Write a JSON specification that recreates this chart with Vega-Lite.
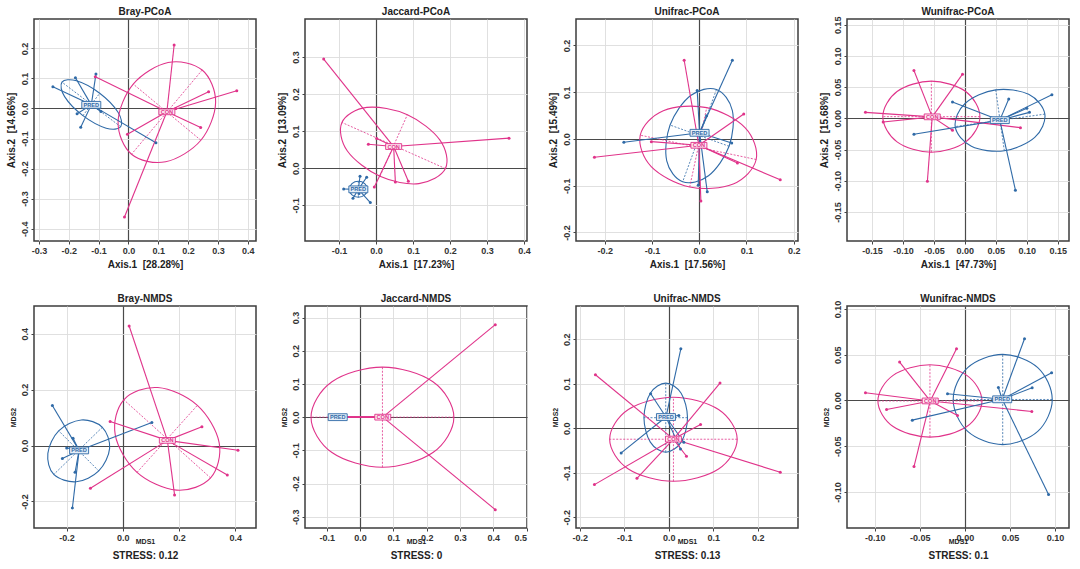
{
"$schema": "https://vega.github.io/schema/vega-lite/v6.json",
"padding": {"left": 5, "top": 6, "right": 5, "bottom": 5},
"columns": 4,
"spacing": {"row": 65, "column": 49},
"bounds": "flush",
"resolve": {"scale": {"x": "independent", "y": "independent"}},
"config": {
  "font": "Liberation Sans",
  "view": {"stroke": "#3c3c3c", "strokeWidth": 1.5},
  "range": {"category": ["#e0338a", "#2f6aa7"]},
  "title": {"fontSize": 10, "fontWeight": "bold", "color": "#222", "offset": 2},
  "axis": {"domain": false, "tickSize": 3, "tickColor": "#444", "labelFontSize": 9, "labelFontWeight": "bold", "labelColor": "#333", "labelPadding": 2, "titleFontSize": 10, "titleFontWeight": "bold", "titleColor": "#222",
    "gridColor": {"condition": {"test": "datum.value===0", "value": "#4a4a4a"}, "value": "#dcdcdc"},
    "gridWidth": {"condition": {"test": "datum.value===0", "value": 1.2}, "value": 0.9},
    "labelExpr": "replace(datum.label,'\u2212','-')"},
  "axisX": {"titlePadding": 4},
  "axisY": {"labelAngle": -90, "labelAlign": "center", "labelBaseline": "bottom", "titlePadding": 4}
},
"datasets": {
"pts": [
{"p":"BP","g":"PRED","x":-0.2533,"y":0.0722,"cx":-0.1246,"cy":0.012},
{"p":"BP","g":"PRED","x":-0.1778,"y":0.1022,"cx":-0.1246,"cy":0.012},
{"p":"BP","g":"PRED","x":-0.1089,"y":0.1144,"cx":-0.1246,"cy":0.012},
{"p":"BP","g":"PRED","x":-0.1722,"y":-0.0178,"cx":-0.1246,"cy":0.012},
{"p":"BP","g":"PRED","x":-0.16,"y":-0.0622,"cx":-0.1246,"cy":0.012},
{"p":"BP","g":"PRED","x":-0.0922,"y":-0.01,"cx":-0.1246,"cy":0.012},
{"p":"BP","g":"PRED","x":0.0922,"y":-0.1144,"cx":-0.1246,"cy":0.012},
{"p":"BP","g":"CON","x":0.1533,"y":0.2111,"cx":0.1289,"cy":-0.0111},
{"p":"BP","g":"CON","x":-0.1111,"y":0.1056,"cx":0.1289,"cy":-0.0111},
{"p":"BP","g":"CON","x":0.2689,"y":0.0556,"cx":0.1289,"cy":-0.0111},
{"p":"BP","g":"CON","x":0.3633,"y":0.0589,"cx":0.1289,"cy":-0.0111},
{"p":"BP","g":"CON","x":0.1589,"y":0.0,"cx":0.1289,"cy":-0.0111},
{"p":"BP","g":"CON","x":0.2422,"y":-0.0633,"cx":0.1289,"cy":-0.0111},
{"p":"BP","g":"CON","x":-0.0033,"y":-0.0856,"cx":0.1289,"cy":-0.0111},
{"p":"BP","g":"CON","x":-0.0133,"y":-0.3611,"cx":0.1289,"cy":-0.0111},
{"p":"JP","g":"CON","x":-0.1414,"y":0.2946,"cx":0.0477,"cy":0.0585},
{"p":"JP","g":"CON","x":0.0018,"y":0.0802,"cx":0.0477,"cy":0.0585},
{"p":"JP","g":"CON","x":-0.0207,"y":0.0649,"cx":0.0477,"cy":0.0585},
{"p":"JP","g":"CON","x":0.3595,"y":0.0811,"cx":0.0477,"cy":0.0585},
{"p":"JP","g":"CON","x":0.0523,"y":-0.0369,"cx":0.0477,"cy":0.0585},
{"p":"JP","g":"CON","x":0.0874,"y":-0.0351,"cx":0.0477,"cy":0.0585},
{"p":"JP","g":"CON","x":-0.0045,"y":-0.0505,"cx":0.0477,"cy":0.0585},
{"p":"JP","g":"PRED","x":-0.0874,"y":-0.0559,"cx":-0.0477,"cy":-0.057},
{"p":"JP","g":"PRED","x":-0.0432,"y":-0.0216,"cx":-0.0477,"cy":-0.057},
{"p":"JP","g":"PRED","x":-0.0252,"y":-0.0243,"cx":-0.0477,"cy":-0.057},
{"p":"JP","g":"PRED","x":-0.0622,"y":-0.0811,"cx":-0.0477,"cy":-0.057},
{"p":"JP","g":"PRED","x":-0.0153,"y":-0.0928,"cx":-0.0477,"cy":-0.057},
{"p":"JP","g":"PRED","x":-0.055,"y":-0.055,"cx":-0.0477,"cy":-0.057},
{"p":"JP","g":"PRED","x":-0.046,"y":-0.068,"cx":-0.0477,"cy":-0.057},
{"p":"UP","g":"PRED","x":0.0702,"y":0.1684,"cx":0.0007,"cy":0.0132},
{"p":"UP","g":"PRED","x":-0.0043,"y":0.1038,"cx":0.0007,"cy":0.0132},
{"p":"UP","g":"PRED","x":-0.1596,"y":-0.0071,"cx":0.0007,"cy":0.0132},
{"p":"UP","g":"PRED","x":0.0688,"y":-0.0085,"cx":0.0007,"cy":0.0132},
{"p":"UP","g":"PRED","x":0.017,"y":-0.113,"cx":0.0007,"cy":0.0132},
{"p":"UP","g":"PRED","x":-0.0021,"y":-0.0988,"cx":0.0007,"cy":0.0132},
{"p":"UP","g":"PRED","x":0.0156,"y":0.0497,"cx":0.0007,"cy":0.0132},
{"p":"UP","g":"CON","x":-0.0319,"y":0.1684,"cx":-0.0007,"cy":-0.0135},
{"p":"UP","g":"CON","x":0.0943,"y":0.0533,"cx":-0.0007,"cy":-0.0135},
{"p":"UP","g":"CON","x":-0.1014,"y":-0.0057,"cx":-0.0007,"cy":-0.0135},
{"p":"UP","g":"CON","x":-0.222,"y":-0.0391,"cx":-0.0007,"cy":-0.0135},
{"p":"UP","g":"CON","x":0.0809,"y":-0.0512,"cx":-0.0007,"cy":-0.0135},
{"p":"UP","g":"CON","x":0.1716,"y":-0.0874,"cx":-0.0007,"cy":-0.0135},
{"p":"UP","g":"CON","x":0.0035,"y":-0.1329,"cx":-0.0007,"cy":-0.0135},
{"p":"WP","g":"CON","x":-0.0822,"y":0.0766,"cx":-0.0527,"cy":0.0024},
{"p":"WP","g":"CON","x":-0.0038,"y":0.0707,"cx":-0.0527,"cy":0.0024},
{"p":"WP","g":"CON","x":-0.1605,"y":0.0096,"cx":-0.0527,"cy":0.0024},
{"p":"WP","g":"CON","x":-0.1319,"y":-0.0059,"cx":-0.0527,"cy":0.0024},
{"p":"WP","g":"CON","x":-0.02,"y":-0.0191,"cx":-0.0527,"cy":0.0024},
{"p":"WP","g":"CON","x":0.0897,"y":-0.0149,"cx":-0.0527,"cy":0.0024},
{"p":"WP","g":"CON","x":-0.0605,"y":-0.1005,"cx":-0.0527,"cy":0.0024},
{"p":"WP","g":"PRED","x":-0.02,"y":0.0261,"cx":0.0564,"cy":-0.0029},
{"p":"WP","g":"PRED","x":0.0708,"y":0.0309,"cx":0.0564,"cy":-0.0029},
{"p":"WP","g":"PRED","x":0.1405,"y":0.0378,"cx":0.0564,"cy":-0.0029},
{"p":"WP","g":"PRED","x":0.1,"y":0.016,"cx":0.0564,"cy":-0.0029},
{"p":"WP","g":"PRED","x":0.1043,"y":0.0096,"cx":0.0564,"cy":-0.0029},
{"p":"WP","g":"PRED","x":-0.0822,"y":-0.0255,"cx":0.0564,"cy":-0.0029},
{"p":"WP","g":"PRED","x":0.0816,"y":-0.1149,"cx":0.0564,"cy":-0.0029},
{"p":"BN","g":"PRED","x":-0.2507,"y":0.1432,"cx":-0.1555,"cy":-0.0174},
{"p":"BN","g":"PRED","x":-0.177,"y":0.0263,"cx":-0.1555,"cy":-0.0174},
{"p":"BN","g":"PRED","x":-0.1996,"y":-0.0084,"cx":-0.1555,"cy":-0.0174},
{"p":"BN","g":"PRED","x":-0.215,"y":-0.0465,"cx":-0.1555,"cy":-0.0174},
{"p":"BN","g":"PRED","x":-0.1699,"y":-0.0955,"cx":-0.1555,"cy":-0.0174},
{"p":"BN","g":"PRED","x":-0.1794,"y":-0.2232,"cx":-0.1555,"cy":-0.0174},
{"p":"BN","g":"PRED","x":0.1034,"y":0.0823,"cx":-0.1555,"cy":-0.0174},
{"p":"BN","g":"CON","x":0.0226,"y":0.4272,"cx":0.1586,"cy":0.0184},
{"p":"BN","g":"CON","x":-0.0451,"y":0.0859,"cx":0.1586,"cy":0.0184},
{"p":"BN","g":"CON","x":0.2816,"y":0.0668,"cx":0.1586,"cy":0.0184},
{"p":"BN","g":"CON","x":0.4099,"y":-0.0167,"cx":0.1586,"cy":0.0184},
{"p":"BN","g":"CON","x":0.3719,"y":-0.105,"cx":0.1586,"cy":0.0184},
{"p":"BN","g":"CON","x":0.1842,"y":-0.1766,"cx":0.1586,"cy":0.0184},
{"p":"BN","g":"CON","x":-0.1152,"y":-0.1527,"cx":0.1586,"cy":0.0184},
{"p":"JN","g":"CON","x":0.4062,"y":0.2787,"cx":0.0682,"cy":0},
{"p":"JN","g":"CON","x":0.4062,"y":-0.2787,"cx":0.0682,"cy":0},
{"p":"JN","g":"CON","x":-0.0672,"y":0,"cx":0.0682,"cy":0},
{"p":"JN","g":"CON","x":-0.0672,"y":0,"cx":0.0682,"cy":0},
{"p":"JN","g":"CON","x":-0.0672,"y":0,"cx":0.0682,"cy":0},
{"p":"JN","g":"CON","x":-0.0672,"y":0,"cx":0.0682,"cy":0},
{"p":"JN","g":"CON","x":-0.0672,"y":0,"cx":0.0682,"cy":0},
{"p":"JN","g":"PRED","x":-0.0672,"y":0,"cx":-0.0672,"cy":0},
{"p":"JN","g":"PRED","x":-0.0672,"y":0,"cx":-0.0672,"cy":0},
{"p":"JN","g":"PRED","x":-0.0672,"y":0,"cx":-0.0672,"cy":0},
{"p":"JN","g":"PRED","x":-0.0672,"y":0,"cx":-0.0672,"cy":0},
{"p":"JN","g":"PRED","x":-0.0672,"y":0,"cx":-0.0672,"cy":0},
{"p":"JN","g":"PRED","x":-0.0672,"y":0,"cx":-0.0672,"cy":0},
{"p":"JN","g":"PRED","x":-0.0672,"y":0,"cx":-0.0672,"cy":0},
{"p":"UN","g":"PRED","x":0.0271,"y":0.1785,"cx":-0.0063,"cy":0.0251},
{"p":"UN","g":"PRED","x":-0.0406,"y":0.0773,"cx":-0.0063,"cy":0.0251},
{"p":"UN","g":"PRED","x":0.0226,"y":0.0285,"cx":-0.0063,"cy":0.0251},
{"p":"UN","g":"PRED","x":-0.1068,"y":-0.0555,"cx":-0.0063,"cy":0.0251},
{"p":"UN","g":"PRED","x":0.0338,"y":-0.0315,"cx":-0.0063,"cy":0.0251},
{"p":"UN","g":"PRED","x":0.0263,"y":-0.0465,"cx":-0.0063,"cy":0.0251},
{"p":"UN","g":"CON","x":-0.1647,"y":0.12,"cx":0.0105,"cy":-0.0245},
{"p":"UN","g":"CON","x":0.115,"y":0.1013,"cx":0.0105,"cy":-0.0245},
{"p":"UN","g":"CON","x":0.0714,"y":0.0083,"cx":0.0105,"cy":-0.0245},
{"p":"UN","g":"CON","x":0.0398,"y":-0.063,"cx":0.0105,"cy":-0.0245},
{"p":"UN","g":"CON","x":-0.0714,"y":-0.1125,"cx":0.0105,"cy":-0.0245},
{"p":"UN","g":"CON","x":-0.1669,"y":-0.1268,"cx":0.0105,"cy":-0.0245},
{"p":"UN","g":"CON","x":0.2504,"y":-0.099,"cx":0.0105,"cy":-0.0245},
{"p":"WN","g":"CON","x":-0.0725,"y":0.042,"cx":-0.0385,"cy":-0.0005},
{"p":"WN","g":"CON","x":-0.0093,"y":0.0566,"cx":-0.0385,"cy":-0.0005},
{"p":"WN","g":"CON","x":-0.1104,"y":0.0084,"cx":-0.0385,"cy":-0.0005},
{"p":"WN","g":"CON","x":-0.087,"y":-0.0099,"cx":-0.0385,"cy":-0.0005},
{"p":"WN","g":"CON","x":-0.0082,"y":-0.0164,"cx":-0.0385,"cy":-0.0005},
{"p":"WN","g":"CON","x":0.0743,"y":-0.012,"cx":-0.0385,"cy":-0.0005},
{"p":"WN","g":"CON","x":-0.0565,"y":-0.0723,"cx":-0.0385,"cy":-0.0005},
{"p":"WN","g":"PRED","x":0.0662,"y":0.0675,"cx":0.0414,"cy":0.0013},
{"p":"WN","g":"PRED","x":0.0963,"y":0.0303,"cx":0.0414,"cy":0.0013},
{"p":"WN","g":"PRED","x":0.0747,"y":0.0139,"cx":0.0414,"cy":0.0013},
{"p":"WN","g":"PRED","x":0.0372,"y":0.0142,"cx":0.0414,"cy":0.0013},
{"p":"WN","g":"PRED","x":-0.0193,"y":0.0073,"cx":0.0414,"cy":0.0013},
{"p":"WN","g":"PRED","x":-0.0584,"y":-0.0215,"cx":0.0414,"cy":0.0013},
{"p":"WN","g":"PRED","x":0.0929,"y":-0.1029,"cx":0.0414,"cy":0.0013}
],
"cen": [
{"p":"BP","g":"PRED","x":-0.1246,"y":0.012},{"p":"BP","g":"CON","x":0.1289,"y":-0.0111},
{"p":"JP","g":"CON","x":0.0477,"y":0.0585},{"p":"JP","g":"PRED","x":-0.0477,"y":-0.057},
{"p":"UP","g":"CON","x":-0.0007,"y":-0.0135},{"p":"UP","g":"PRED","x":0.0007,"y":0.0132},
{"p":"WP","g":"CON","x":-0.0527,"y":0.0024},{"p":"WP","g":"PRED","x":0.0564,"y":-0.0029},
{"p":"BN","g":"PRED","x":-0.1555,"y":-0.0174},{"p":"BN","g":"CON","x":0.1586,"y":0.0184},
{"p":"JN","g":"PRED","x":-0.0672,"y":0},{"p":"JN","g":"CON","x":0.0682,"y":0},
{"p":"UN","g":"CON","x":0.0105,"y":-0.0245},{"p":"UN","g":"PRED","x":-0.0063,"y":0.0251},
{"p":"WN","g":"CON","x":-0.0385,"y":-0.0005},{"p":"WN","g":"PRED","x":0.0414,"y":0.0013}
],
"ell": [
{"p":"BP","g":"PRED","k":0,"x":-0.0259,"y":-0.0609},{"p":"BP","g":"PRED","k":1,"x":-0.0747,"y":-0.0656},{"p":"BP","g":"PRED","k":2,"x":-0.1526,"y":-0.024},{"p":"BP","g":"PRED","k":3,"x":-0.214,"y":0.0393},{"p":"BP","g":"PRED","k":4,"x":-0.223,"y":0.0876},{"p":"BP","g":"PRED","k":5,"x":-0.1742,"y":0.0922},{"p":"BP","g":"PRED","k":6,"x":-0.0963,"y":0.0507},{"p":"BP","g":"PRED","k":7,"x":-0.0349,"y":-0.0127},
{"p":"BP","g":"CON","k":0,"x":0.2473,"y":0.1279},{"p":"BP","g":"CON","k":1,"x":0.2924,"y":0.0208},{"p":"BP","g":"CON","k":2,"x":0.2429,"y":-0.1058},{"p":"BP","g":"CON","k":3,"x":0.1249,"y":-0.1774},{"p":"BP","g":"CON","k":4,"x":0.0104,"y":-0.1523},{"p":"BP","g":"CON","k":5,"x":-0.0347,"y":-0.0452},{"p":"BP","g":"CON","k":6,"x":0.016,"y":0.0813},{"p":"BP","g":"CON","k":7,"x":0.1329,"y":0.153},
{"p":"JP","g":"CON","k":0,"x":0.1877,"y":-0.001},{"p":"JP","g":"CON","k":1,"x":0.116,"y":-0.0416},{"p":"JP","g":"CON","k":2,"x":0.0107,"y":-0.0219},{"p":"JP","g":"CON","k":3,"x":-0.0774,"y":0.0465},{"p":"JP","g":"CON","k":4,"x":-0.0921,"y":0.1235},{"p":"JP","g":"CON","k":5,"x":-0.025,"y":0.1641},{"p":"JP","g":"CON","k":6,"x":0.0848,"y":0.1444},{"p":"JP","g":"CON","k":7,"x":0.1729,"y":0.076},
{"p":"JP","g":"PRED","k":0,"x":-0.0234,"y":-0.0568},{"p":"JP","g":"PRED","k":1,"x":-0.0305,"y":-0.0721},{"p":"JP","g":"PRED","k":2,"x":-0.0477,"y":-0.0784},{"p":"JP","g":"PRED","k":3,"x":-0.065,"y":-0.0721},{"p":"JP","g":"PRED","k":4,"x":-0.0721,"y":-0.0568},{"p":"JP","g":"PRED","k":5,"x":-0.065,"y":-0.0414},{"p":"JP","g":"PRED","k":6,"x":-0.0477,"y":-0.0351},{"p":"JP","g":"PRED","k":7,"x":-0.0305,"y":-0.0414},
{"p":"UP","g":"PRED","k":0,"x":0.0365,"y":0.1058},{"p":"UP","g":"PRED","k":1,"x":0.0702,"y":0.0608},{"p":"UP","g":"PRED","k":2,"x":0.0632,"y":-0.0156},{"p":"UP","g":"PRED","k":3,"x":0.0196,"y":-0.0787},{"p":"UP","g":"PRED","k":4,"x":-0.0351,"y":-0.0916},{"p":"UP","g":"PRED","k":5,"x":-0.0688,"y":-0.0466},{"p":"UP","g":"PRED","k":6,"x":-0.0618,"y":0.0298},{"p":"UP","g":"PRED","k":7,"x":-0.0182,"y":0.093},
{"p":"UP","g":"CON","k":0,"x":0.1206,"y":-0.0439},{"p":"UP","g":"CON","k":1,"x":0.072,"y":-0.0962},{"p":"UP","g":"CON","k":2,"x":-0.0202,"y":-0.1026},{"p":"UP","g":"CON","k":3,"x":-0.1017,"y":-0.0592},{"p":"UP","g":"CON","k":4,"x":-0.1249,"y":0.0081},{"p":"UP","g":"CON","k":5,"x":-0.0761,"y":0.0606},{"p":"UP","g":"CON","k":6,"x":0.0159,"y":0.067},{"p":"UP","g":"CON","k":7,"x":0.0974,"y":0.0237},
{"p":"WP","g":"CON","k":0,"x":0.0243,"y":0.0027},{"p":"WP","g":"CON","k":1,"x":0.0014,"y":-0.0376},{"p":"WP","g":"CON","k":2,"x":-0.0541,"y":-0.0543},{"p":"WP","g":"CON","k":3,"x":-0.1095,"y":-0.0376},{"p":"WP","g":"CON","k":4,"x":-0.1325,"y":0.0027},{"p":"WP","g":"CON","k":5,"x":-0.1095,"y":0.0429},{"p":"WP","g":"CON","k":6,"x":-0.0541,"y":0.0596},{"p":"WP","g":"CON","k":7,"x":0.0014,"y":0.0429},
{"p":"WP","g":"PRED","k":0,"x":0.1291,"y":0.0068},{"p":"WP","g":"PRED","k":1,"x":0.1128,"y":-0.0306},{"p":"WP","g":"PRED","k":2,"x":0.0637,"y":-0.0519},{"p":"WP","g":"PRED","k":3,"x":0.0105,"y":-0.0447},{"p":"WP","g":"PRED","k":4,"x":-0.0156,"y":-0.0132},{"p":"WP","g":"PRED","k":5,"x":0.0007,"y":0.0242},{"p":"WP","g":"PRED","k":6,"x":0.0498,"y":0.0456},{"p":"WP","g":"PRED","k":7,"x":0.103,"y":0.0384},
{"p":"BN","g":"CON","k":0,"x":0.3125,"y":-0.1159},{"p":"BN","g":"CON","k":1,"x":0.1914,"y":-0.1595},{"p":"BN","g":"CON","k":2,"x":0.0507,"y":-0.0958},{"p":"BN","g":"CON","k":3,"x":-0.0269,"y":0.0381},{"p":"BN","g":"CON","k":4,"x":0.0036,"y":0.1636},{"p":"BN","g":"CON","k":5,"x":0.1246,"y":0.2073},{"p":"BN","g":"CON","k":6,"x":0.2653,"y":0.1436},{"p":"BN","g":"CON","k":7,"x":0.343,"y":0.0097},
{"p":"BN","g":"PRED","k":0,"x":-0.0728,"y":0.0653},{"p":"BN","g":"PRED","k":1,"x":-0.0469,"y":-0.0102},{"p":"BN","g":"PRED","k":2,"x":-0.0855,"y":-0.0908},{"p":"BN","g":"PRED","k":3,"x":-0.1657,"y":-0.1295},{"p":"BN","g":"PRED","k":4,"x":-0.2456,"y":-0.1034},{"p":"BN","g":"PRED","k":5,"x":-0.2667,"y":-0.028},{"p":"BN","g":"PRED","k":6,"x":-0.2282,"y":0.0526},{"p":"BN","g":"PRED","k":7,"x":-0.148,"y":0.0913},
{"p":"JN","g":"CON","k":0,"x":0.2818,"y":0},{"p":"JN","g":"CON","k":1,"x":0.2189,"y":-0.1067},{"p":"JN","g":"CON","k":2,"x":0.0672,"y":-0.1509},{"p":"JN","g":"CON","k":3,"x":-0.0845,"y":-0.1067},{"p":"JN","g":"CON","k":4,"x":-0.1474,"y":0},{"p":"JN","g":"CON","k":5,"x":-0.0845,"y":0.1067},{"p":"JN","g":"CON","k":6,"x":0.0672,"y":0.1509},{"p":"JN","g":"CON","k":7,"x":0.2189,"y":0.1067},
{"p":"UN","g":"CON","k":0,"x":0.1537,"y":-0.0248},{"p":"UN","g":"CON","k":1,"x":0.1118,"y":-0.0916},{"p":"UN","g":"CON","k":2,"x":0.0105,"y":-0.1193},{"p":"UN","g":"CON","k":3,"x":-0.0908,"y":-0.0916},{"p":"UN","g":"CON","k":4,"x":-0.1327,"y":-0.0248},{"p":"UN","g":"CON","k":5,"x":-0.0908,"y":0.042},{"p":"UN","g":"CON","k":6,"x":0.0105,"y":0.0697},{"p":"UN","g":"CON","k":7,"x":0.1118,"y":0.042},
{"p":"UN","g":"PRED","k":0,"x":0.0421,"y":0.0236},{"p":"UN","g":"PRED","k":1,"x":0.0278,"y":-0.0313},{"p":"UN","g":"PRED","k":2,"x":-0.0068,"y":-0.054},{"p":"UN","g":"PRED","k":3,"x":-0.0414,"y":-0.0313},{"p":"UN","g":"PRED","k":4,"x":-0.0557,"y":0.0236},{"p":"UN","g":"PRED","k":5,"x":-0.0414,"y":0.0785},{"p":"UN","g":"PRED","k":6,"x":-0.0068,"y":0.1012},{"p":"UN","g":"PRED","k":7,"x":0.0278,"y":0.0785},
{"p":"WN","g":"CON","k":0,"x":0.019,"y":-0.0005},{"p":"WN","g":"CON","k":1,"x":0.0021,"y":-0.0285},{"p":"WN","g":"CON","k":2,"x":-0.0388,"y":-0.0401},{"p":"WN","g":"CON","k":3,"x":-0.0797,"y":-0.0285},{"p":"WN","g":"CON","k":4,"x":-0.0966,"y":-0.0005},{"p":"WN","g":"CON","k":5,"x":-0.0797,"y":0.0275},{"p":"WN","g":"CON","k":6,"x":-0.0388,"y":0.0391},{"p":"WN","g":"CON","k":7,"x":0.0021,"y":0.0275},
{"p":"WN","g":"PRED","k":0,"x":0.097,"y":0.0011},{"p":"WN","g":"PRED","k":1,"x":0.0809,"y":-0.0338},{"p":"WN","g":"PRED","k":2,"x":0.042,"y":-0.0482},{"p":"WN","g":"PRED","k":3,"x":0.0031,"y":-0.0338},{"p":"WN","g":"PRED","k":4,"x":-0.013,"y":0.0011},{"p":"WN","g":"PRED","k":5,"x":0.0031,"y":0.036},{"p":"WN","g":"PRED","k":6,"x":0.042,"y":0.0504},{"p":"WN","g":"PRED","k":7,"x":0.0809,"y":0.036}
],
"axs": [
{"p":"BP","g":"PRED","x":-0.0259,"y":-0.0609,"x2":-0.223,"y2":0.0876},{"p":"BP","g":"PRED","x":-0.1526,"y":-0.024,"x2":-0.0963,"y2":0.0507},
{"p":"BP","g":"CON","x":0.2473,"y":0.1279,"x2":0.0104,"y2":-0.1523},{"p":"BP","g":"CON","x":0.2429,"y":-0.1058,"x2":0.016,"y2":0.0813},
{"p":"JP","g":"CON","x":0.1877,"y":-0.001,"x2":-0.0921,"y2":0.1235},{"p":"JP","g":"CON","x":0.0107,"y":-0.0219,"x2":0.0848,"y2":0.1444},
{"p":"JP","g":"PRED","x":-0.0234,"y":-0.0568,"x2":-0.0721,"y2":-0.0568},{"p":"JP","g":"PRED","x":-0.0477,"y":-0.0784,"x2":-0.0477,"y2":-0.0351},
{"p":"UP","g":"PRED","x":0.0365,"y":0.1058,"x2":-0.0351,"y2":-0.0916},{"p":"UP","g":"PRED","x":0.0632,"y":-0.0156,"x2":-0.0618,"y2":0.0298},
{"p":"UP","g":"CON","x":0.1206,"y":-0.0439,"x2":-0.1249,"y2":0.0081},{"p":"UP","g":"CON","x":-0.0202,"y":-0.1026,"x2":0.0159,"y2":0.067},
{"p":"WP","g":"CON","x":0.0243,"y":0.0027,"x2":-0.1325,"y2":0.0027},{"p":"WP","g":"CON","x":-0.0541,"y":-0.0543,"x2":-0.0541,"y2":0.0596},
{"p":"WP","g":"PRED","x":0.1291,"y":0.0068,"x2":-0.0156,"y2":-0.0132},{"p":"WP","g":"PRED","x":0.0637,"y":-0.0519,"x2":0.0498,"y2":0.0456},
{"p":"BN","g":"CON","x":0.3125,"y":-0.1159,"x2":0.0036,"y2":0.1636},{"p":"BN","g":"CON","x":0.0507,"y":-0.0958,"x2":0.2653,"y2":0.1436},
{"p":"BN","g":"PRED","x":-0.0728,"y":0.0653,"x2":-0.2456,"y2":-0.1034},{"p":"BN","g":"PRED","x":-0.0855,"y":-0.0908,"x2":-0.2282,"y2":0.0526},
{"p":"JN","g":"CON","x":0.2818,"y":0,"x2":-0.1474,"y2":0},{"p":"JN","g":"CON","x":0.0672,"y":-0.1509,"x2":0.0672,"y2":0.1509},
{"p":"UN","g":"CON","x":0.1537,"y":-0.0248,"x2":-0.1327,"y2":-0.0248},{"p":"UN","g":"CON","x":0.0105,"y":-0.1193,"x2":0.0105,"y2":0.0697},
{"p":"UN","g":"PRED","x":0.0421,"y":0.0236,"x2":-0.0557,"y2":0.0236},{"p":"UN","g":"PRED","x":-0.0068,"y":-0.054,"x2":-0.0068,"y2":0.1012},
{"p":"WN","g":"CON","x":0.019,"y":-0.0005,"x2":-0.0966,"y2":-0.0005},{"p":"WN","g":"CON","x":-0.0388,"y":-0.0401,"x2":-0.0388,"y2":0.0391},
{"p":"WN","g":"PRED","x":0.097,"y":0.0011,"x2":-0.013,"y2":0.0011},{"p":"WN","g":"PRED","x":0.042,"y":-0.0482,"x2":0.042,"y2":0.0504}
]
},
"concat": [
{"title":"Bray-PCoA","width":222,"height":222,
 "encoding":{"x":{"field":"x","type":"quantitative","scale":{"domain":[-0.3167,0.4278],"nice":false,"zero":false},"axis":{"values":[-0.3,-0.2,-0.1,0,0.1,0.2,0.3,0.4],"format":".1f","title":"Axis.1\u00a0 [28.28%]"}},
  "y":{"field":"y","type":"quantitative","scale":{"domain":[-0.4411,0.2978],"nice":false,"zero":false},"axis":{"values":[-0.4,-0.3,-0.2,-0.1,0,0.1,0.2],"format":".1f","title":"Axis.2\u00a0 [14.66%]"}}},
 "layer":[
  {"data":{"name":"ell"},"transform":[{"filter":"datum.p==='BP'"}],"mark":{"type":"line","interpolate":"cardinal-closed","strokeWidth":1.1},"encoding":{"color":{"field":"g","type":"nominal","legend":null},"order":{"field":"k","type":"quantitative"}}},
  {"data":{"name":"axs"},"transform":[{"filter":"datum.p==='BP'"}],"mark":{"type":"rule","strokeDash":[2,1.5],"strokeWidth":0.8},"encoding":{"x2":{"field":"x2"},"y2":{"field":"y2"},"color":{"field":"g","type":"nominal","legend":null}}},
  {"data":{"name":"pts"},"transform":[{"filter":"datum.p==='BP'"}],"mark":{"type":"rule","strokeWidth":1.1},"encoding":{"x2":{"field":"cx"},"y2":{"field":"cy"},"color":{"field":"g","type":"nominal","legend":null}}},
  {"data":{"name":"pts"},"transform":[{"filter":"datum.p==='BP'"}],"mark":{"type":"circle","size":9,"opacity":1},"encoding":{"color":{"field":"g","type":"nominal","legend":null}}},
  {"data":{"name":"cen"},"transform":[{"filter":"datum.p==='BP'"}],"mark":{"type":"point","shape":"M-1,-0.36H1V0.36H-1Z","filled":true,"strokeWidth":0.9,"opacity":1},"encoding":{"fill":{"field":"g","type":"nominal","scale":{"domain":["CON","PRED"],"range":["#fde6f1","#e4edf7"]},"legend":null},"stroke":{"field":"g","type":"nominal","scale":{"domain":["CON","PRED"],"range":["#e0338a","#2f6aa7"]},"legend":null},"size":{"field":"g","type":"ordinal","scale":{"domain":["CON","PRED"],"range":[256,361]},"legend":null}}},
  {"data":{"name":"cen"},"transform":[{"filter":"datum.p==='BP'"}],"mark":{"type":"text","fontSize":5.6,"fontWeight":"bold"},"encoding":{"text":{"field":"g"},"color":{"field":"g","type":"nominal","legend":null}}}
 ]},
{"title":"Jaccard-PCoA","width":222,"height":222,
 "encoding":{"x":{"field":"x","type":"quantitative","scale":{"domain":[-0.1919,0.4081],"nice":false,"zero":false},"axis":{"values":[-0.1,0,0.1,0.2,0.3,0.4],"format":".1f","title":"Axis.1\u00a0 [17.23%]"}},
  "y":{"field":"y","type":"quantitative","scale":{"domain":[-0.1964,0.4027],"nice":false,"zero":false},"axis":{"values":[-0.1,0,0.1,0.2,0.3],"format":".1f","title":"Axis.2\u00a0 [13.09%]"}}},
 "layer":[
  {"data":{"name":"ell"},"transform":[{"filter":"datum.p==='JP'"}],"mark":{"type":"line","interpolate":"cardinal-closed","strokeWidth":1.1},"encoding":{"color":{"field":"g","type":"nominal","legend":null},"order":{"field":"k","type":"quantitative"}}},
  {"data":{"name":"axs"},"transform":[{"filter":"datum.p==='JP'"}],"mark":{"type":"rule","strokeDash":[2,1.5],"strokeWidth":0.8},"encoding":{"x2":{"field":"x2"},"y2":{"field":"y2"},"color":{"field":"g","type":"nominal","legend":null}}},
  {"data":{"name":"pts"},"transform":[{"filter":"datum.p==='JP'"}],"mark":{"type":"rule","strokeWidth":1.1},"encoding":{"x2":{"field":"cx"},"y2":{"field":"cy"},"color":{"field":"g","type":"nominal","legend":null}}},
  {"data":{"name":"pts"},"transform":[{"filter":"datum.p==='JP'"}],"mark":{"type":"circle","size":9,"opacity":1},"encoding":{"color":{"field":"g","type":"nominal","legend":null}}},
  {"data":{"name":"cen"},"transform":[{"filter":"datum.p==='JP'"}],"mark":{"type":"point","shape":"M-1,-0.36H1V0.36H-1Z","filled":true,"strokeWidth":0.9,"opacity":1},"encoding":{"fill":{"field":"g","type":"nominal","scale":{"domain":["CON","PRED"],"range":["#fde6f1","#e4edf7"]},"legend":null},"stroke":{"field":"g","type":"nominal","scale":{"domain":["CON","PRED"],"range":["#e0338a","#2f6aa7"]},"legend":null},"size":{"field":"g","type":"ordinal","scale":{"domain":["CON","PRED"],"range":[256,361]},"legend":null}}},
  {"data":{"name":"cen"},"transform":[{"filter":"datum.p==='JP'"}],"mark":{"type":"text","fontSize":5.6,"fontWeight":"bold"},"encoding":{"text":{"field":"g"},"color":{"field":"g","type":"nominal","legend":null}}}
 ]},
{"title":"Unifrac-PCoA","width":222,"height":222,
 "encoding":{"x":{"field":"x","type":"quantitative","scale":{"domain":[-0.261,0.2092],"nice":false,"zero":false},"axis":{"values":[-0.2,-0.1,0,0.1,0.2],"format":".1f","title":"Axis.1\u00a0 [17.56%]"}},
  "y":{"field":"y","type":"quantitative","scale":{"domain":[-0.2182,0.2566],"nice":false,"zero":false},"axis":{"values":[-0.2,-0.1,0,0.1,0.2],"format":".1f","title":"Axis.2\u00a0 [15.49%]"}}},
 "layer":[
  {"data":{"name":"ell"},"transform":[{"filter":"datum.p==='UP'"}],"mark":{"type":"line","interpolate":"cardinal-closed","strokeWidth":1.1},"encoding":{"color":{"field":"g","type":"nominal","legend":null},"order":{"field":"k","type":"quantitative"}}},
  {"data":{"name":"axs"},"transform":[{"filter":"datum.p==='UP'"}],"mark":{"type":"rule","strokeDash":[2,1.5],"strokeWidth":0.8},"encoding":{"x2":{"field":"x2"},"y2":{"field":"y2"},"color":{"field":"g","type":"nominal","legend":null}}},
  {"data":{"name":"pts"},"transform":[{"filter":"datum.p==='UP'"}],"mark":{"type":"rule","strokeWidth":1.1},"encoding":{"x2":{"field":"cx"},"y2":{"field":"cy"},"color":{"field":"g","type":"nominal","legend":null}}},
  {"data":{"name":"pts"},"transform":[{"filter":"datum.p==='UP'"}],"mark":{"type":"circle","size":9,"opacity":1},"encoding":{"color":{"field":"g","type":"nominal","legend":null}}},
  {"data":{"name":"cen"},"transform":[{"filter":"datum.p==='UP'"}],"mark":{"type":"point","shape":"M-1,-0.36H1V0.36H-1Z","filled":true,"strokeWidth":0.9,"opacity":1},"encoding":{"fill":{"field":"g","type":"nominal","scale":{"domain":["CON","PRED"],"range":["#fde6f1","#e4edf7"]},"legend":null},"stroke":{"field":"g","type":"nominal","scale":{"domain":["CON","PRED"],"range":["#e0338a","#2f6aa7"]},"legend":null},"size":{"field":"g","type":"ordinal","scale":{"domain":["CON","PRED"],"range":[256,361]},"legend":null}}},
  {"data":{"name":"cen"},"transform":[{"filter":"datum.p==='UP'"}],"mark":{"type":"text","fontSize":5.6,"fontWeight":"bold"},"encoding":{"text":{"field":"g"},"color":{"field":"g","type":"nominal","legend":null}}}
 ]},
{"title":{"text":"Wunifrac-PCoA","offset":-1.2},"width":222,"height":222,
 "encoding":{"x":{"field":"x","type":"quantitative","scale":{"domain":[-0.1903,0.1681],"nice":false,"zero":false},"axis":{"values":[-0.15,-0.1,-0.05,0,0.05,0.1,0.15],"format":".2f","title":"Axis.1\u00a0 [47.73%]"}},
  "y":{"field":"y","type":"quantitative","scale":{"domain":[-0.1963,0.159],"nice":false,"zero":false},"axis":{"values":[-0.15,-0.1,-0.05,0,0.05,0.1,0.15],"format":".2f","title":"Axis.2\u00a0 [15.68%]"}}},
 "layer":[
  {"data":{"name":"ell"},"transform":[{"filter":"datum.p==='WP'"}],"mark":{"type":"line","interpolate":"cardinal-closed","strokeWidth":1.1},"encoding":{"color":{"field":"g","type":"nominal","legend":null},"order":{"field":"k","type":"quantitative"}}},
  {"data":{"name":"axs"},"transform":[{"filter":"datum.p==='WP'"}],"mark":{"type":"rule","strokeDash":[2,1.5],"strokeWidth":0.8},"encoding":{"x2":{"field":"x2"},"y2":{"field":"y2"},"color":{"field":"g","type":"nominal","legend":null}}},
  {"data":{"name":"pts"},"transform":[{"filter":"datum.p==='WP'"}],"mark":{"type":"rule","strokeWidth":1.1},"encoding":{"x2":{"field":"cx"},"y2":{"field":"cy"},"color":{"field":"g","type":"nominal","legend":null}}},
  {"data":{"name":"pts"},"transform":[{"filter":"datum.p==='WP'"}],"mark":{"type":"circle","size":9,"opacity":1},"encoding":{"color":{"field":"g","type":"nominal","legend":null}}},
  {"data":{"name":"cen"},"transform":[{"filter":"datum.p==='WP'"}],"mark":{"type":"point","shape":"M-1,-0.36H1V0.36H-1Z","filled":true,"strokeWidth":0.9,"opacity":1},"encoding":{"fill":{"field":"g","type":"nominal","scale":{"domain":["CON","PRED"],"range":["#fde6f1","#e4edf7"]},"legend":null},"stroke":{"field":"g","type":"nominal","scale":{"domain":["CON","PRED"],"range":["#e0338a","#2f6aa7"]},"legend":null},"size":{"field":"g","type":"ordinal","scale":{"domain":["CON","PRED"],"range":[256,361]},"legend":null}}},
  {"data":{"name":"cen"},"transform":[{"filter":"datum.p==='WP'"}],"mark":{"type":"text","fontSize":5.6,"fontWeight":"bold"},"encoding":{"text":{"field":"g"},"color":{"field":"g","type":"nominal","legend":null}}}
 ]},
{"title":"Bray-NMDS","width":222,"height":222,"resolve":{"axis":{"x":"independent"}},
 "layer":[
 {"encoding":{"x":{"field":"x","type":"quantitative","scale":{"domain":[-0.316,0.474],"nice":false,"zero":false},"axis":{"values":[-0.2,0,0.2,0.4],"format":".1f","title":"MDS1","titleFontSize":7,"titlePadding":-5}},
  "y":{"field":"y","type":"quantitative","scale":{"domain":[-0.2948,0.4988],"nice":false,"zero":false},"axis":{"values":[-0.2,0,0.2,0.4],"format":".1f","title":"MDS2","titleFontSize":7}}},
 "layer":[
  {"data":{"name":"ell"},"transform":[{"filter":"datum.p==='BN'"}],"mark":{"type":"line","interpolate":"cardinal-closed","strokeWidth":1.1},"encoding":{"color":{"field":"g","type":"nominal","legend":null},"order":{"field":"k","type":"quantitative"}}},
  {"data":{"name":"axs"},"transform":[{"filter":"datum.p==='BN'"}],"mark":{"type":"rule","strokeDash":[2,1.5],"strokeWidth":0.8},"encoding":{"x2":{"field":"x2"},"y2":{"field":"y2"},"color":{"field":"g","type":"nominal","legend":null}}},
  {"data":{"name":"pts"},"transform":[{"filter":"datum.p==='BN'"}],"mark":{"type":"rule","strokeWidth":1.1},"encoding":{"x2":{"field":"cx"},"y2":{"field":"cy"},"color":{"field":"g","type":"nominal","legend":null}}},
  {"data":{"name":"pts"},"transform":[{"filter":"datum.p==='BN'"}],"mark":{"type":"circle","size":9,"opacity":1},"encoding":{"color":{"field":"g","type":"nominal","legend":null}}},
  {"data":{"name":"cen"},"transform":[{"filter":"datum.p==='BN'"}],"mark":{"type":"point","shape":"M-1,-0.36H1V0.36H-1Z","filled":true,"strokeWidth":0.9,"opacity":1},"encoding":{"fill":{"field":"g","type":"nominal","scale":{"domain":["CON","PRED"],"range":["#fde6f1","#e4edf7"]},"legend":null},"stroke":{"field":"g","type":"nominal","scale":{"domain":["CON","PRED"],"range":["#e0338a","#2f6aa7"]},"legend":null},"size":{"field":"g","type":"ordinal","scale":{"domain":["CON","PRED"],"range":[256,361]},"legend":null}}},
  {"data":{"name":"cen"},"transform":[{"filter":"datum.p==='BN'"}],"mark":{"type":"text","fontSize":5.6,"fontWeight":"bold"},"encoding":{"text":{"field":"g"},"color":{"field":"g","type":"nominal","legend":null}}}
 ]},
 {"data":{"name":"cen"},"transform":[{"filter":"datum.p==='BN'"}],"mark":{"type":"point","opacity":0},
  "encoding":{"x":{"field":"x","type":"quantitative","scale":{"domain":[-0.316,0.474],"nice":false,"zero":false},"axis":{"orient":"bottom","title":"STRESS: 0.12","labels":false,"ticks":false,"grid":false,"domain":false,"titleFontSize":10,"titlePadding":22}},
   "y":{"field":"y","type":"quantitative","scale":{"domain":[-0.2948,0.4988],"nice":false,"zero":false},"axis":{"values":[-0.2,0,0.2,0.4],"format":".1f","title":"MDS2","titleFontSize":7}}}}
 ]},
{"title":"Jaccard-NMDS","width":222,"height":222,"resolve":{"axis":{"x":"independent"}},
 "layer":[
 {"encoding":{"x":{"field":"x","type":"quantitative","scale":{"domain":[-0.1655,0.5015],"nice":false,"zero":false},"axis":{"values":[-0.1,0,0.1,0.2,0.3,0.4,0.5],"format":".1f","title":"MDS1","titleFontSize":7,"titlePadding":-5}},
  "y":{"field":"y","type":"quantitative","scale":{"domain":[-0.334,0.335],"nice":false,"zero":false},"axis":{"values":[-0.3,-0.2,-0.1,0,0.1,0.2,0.3],"format":".1f","title":"MDS2","titleFontSize":7}}},
 "layer":[
  {"data":{"name":"ell"},"transform":[{"filter":"datum.p==='JN'"}],"mark":{"type":"line","interpolate":"cardinal-closed","strokeWidth":1.1},"encoding":{"color":{"field":"g","type":"nominal","legend":null},"order":{"field":"k","type":"quantitative"}}},
  {"data":{"name":"axs"},"transform":[{"filter":"datum.p==='JN'"}],"mark":{"type":"rule","strokeDash":[2,1.5],"strokeWidth":0.8},"encoding":{"x2":{"field":"x2"},"y2":{"field":"y2"},"color":{"field":"g","type":"nominal","legend":null}}},
  {"data":{"name":"pts"},"transform":[{"filter":"datum.p==='JN'"}],"mark":{"type":"rule","strokeWidth":1.1},"encoding":{"x2":{"field":"cx"},"y2":{"field":"cy"},"color":{"field":"g","type":"nominal","legend":null}}},
  {"data":{"name":"pts"},"transform":[{"filter":"datum.p==='JN'"}],"mark":{"type":"circle","size":9,"opacity":1},"encoding":{"color":{"field":"g","type":"nominal","legend":null}}},
  {"data":{"name":"cen"},"transform":[{"filter":"datum.p==='JN'"}],"mark":{"type":"point","shape":"M-1,-0.36H1V0.36H-1Z","filled":true,"strokeWidth":0.9,"opacity":1},"encoding":{"fill":{"field":"g","type":"nominal","scale":{"domain":["CON","PRED"],"range":["#fde6f1","#e4edf7"]},"legend":null},"stroke":{"field":"g","type":"nominal","scale":{"domain":["CON","PRED"],"range":["#e0338a","#2f6aa7"]},"legend":null},"size":{"field":"g","type":"ordinal","scale":{"domain":["CON","PRED"],"range":[256,361]},"legend":null}}},
  {"data":{"name":"cen"},"transform":[{"filter":"datum.p==='JN'"}],"mark":{"type":"text","fontSize":5.6,"fontWeight":"bold"},"encoding":{"text":{"field":"g"},"color":{"field":"g","type":"nominal","legend":null}}}
 ]},
 {"data":{"name":"cen"},"transform":[{"filter":"datum.p==='JN'"}],"mark":{"type":"point","opacity":0},
  "encoding":{"x":{"field":"x","type":"quantitative","scale":{"domain":[-0.1655,0.5015],"nice":false,"zero":false},"axis":{"orient":"bottom","title":"STRESS: 0","labels":false,"ticks":false,"grid":false,"domain":false,"titleFontSize":10,"titlePadding":22}},
   "y":{"field":"y","type":"quantitative","scale":{"domain":[-0.334,0.335],"nice":false,"zero":false},"axis":{"values":[-0.3,-0.2,-0.1,0,0.1,0.2,0.3],"format":".1f","title":"MDS2","titleFontSize":7}}}}
 ]},
{"title":"Unifrac-NMDS","width":222,"height":222,"resolve":{"axis":{"x":"independent"}},
 "layer":[
 {"encoding":{"x":{"field":"x","type":"quantitative","scale":{"domain":[-0.2083,0.2902],"nice":false,"zero":false},"axis":{"values":[-0.2,-0.1,0,0.1,0.2],"format":".1f","title":"MDS1","titleFontSize":7,"titlePadding":-5}},
  "y":{"field":"y","type":"quantitative","scale":{"domain":[-0.2243,0.2746],"nice":false,"zero":false},"axis":{"values":[-0.2,-0.1,0,0.1,0.2],"format":".1f","title":"MDS2","titleFontSize":7}}},
 "layer":[
  {"data":{"name":"ell"},"transform":[{"filter":"datum.p==='UN'"}],"mark":{"type":"line","interpolate":"cardinal-closed","strokeWidth":1.1},"encoding":{"color":{"field":"g","type":"nominal","legend":null},"order":{"field":"k","type":"quantitative"}}},
  {"data":{"name":"axs"},"transform":[{"filter":"datum.p==='UN'"}],"mark":{"type":"rule","strokeDash":[2,1.5],"strokeWidth":0.8},"encoding":{"x2":{"field":"x2"},"y2":{"field":"y2"},"color":{"field":"g","type":"nominal","legend":null}}},
  {"data":{"name":"pts"},"transform":[{"filter":"datum.p==='UN'"}],"mark":{"type":"rule","strokeWidth":1.1},"encoding":{"x2":{"field":"cx"},"y2":{"field":"cy"},"color":{"field":"g","type":"nominal","legend":null}}},
  {"data":{"name":"pts"},"transform":[{"filter":"datum.p==='UN'"}],"mark":{"type":"circle","size":9,"opacity":1},"encoding":{"color":{"field":"g","type":"nominal","legend":null}}},
  {"data":{"name":"cen"},"transform":[{"filter":"datum.p==='UN'"}],"mark":{"type":"point","shape":"M-1,-0.36H1V0.36H-1Z","filled":true,"strokeWidth":0.9,"opacity":1},"encoding":{"fill":{"field":"g","type":"nominal","scale":{"domain":["CON","PRED"],"range":["#fde6f1","#e4edf7"]},"legend":null},"stroke":{"field":"g","type":"nominal","scale":{"domain":["CON","PRED"],"range":["#e0338a","#2f6aa7"]},"legend":null},"size":{"field":"g","type":"ordinal","scale":{"domain":["CON","PRED"],"range":[256,361]},"legend":null}}},
  {"data":{"name":"cen"},"transform":[{"filter":"datum.p==='UN'"}],"mark":{"type":"text","fontSize":5.6,"fontWeight":"bold"},"encoding":{"text":{"field":"g"},"color":{"field":"g","type":"nominal","legend":null}}}
 ]},
 {"data":{"name":"cen"},"transform":[{"filter":"datum.p==='UN'"}],"mark":{"type":"point","opacity":0},
  "encoding":{"x":{"field":"x","type":"quantitative","scale":{"domain":[-0.2083,0.2902],"nice":false,"zero":false},"axis":{"orient":"bottom","title":"STRESS: 0.13","labels":false,"ticks":false,"grid":false,"domain":false,"titleFontSize":10,"titlePadding":22}},
   "y":{"field":"y","type":"quantitative","scale":{"domain":[-0.2243,0.2746],"nice":false,"zero":false},"axis":{"values":[-0.2,-0.1,0,0.1,0.2],"format":".1f","title":"MDS2","titleFontSize":7}}}}
 ]},
{"title":{"text":"Wunifrac-NMDS","offset":-3.8},"width":222,"height":222,"resolve":{"axis":{"x":"independent"}},
 "layer":[
 {"encoding":{"x":{"field":"x","type":"quantitative","scale":{"domain":[-0.1309,0.1156],"nice":false,"zero":false},"axis":{"values":[-0.1,-0.05,0,0.05,0.1],"format":".2f","title":"MDS1","titleFontSize":7,"titlePadding":-5}},
  "y":{"field":"y","type":"quantitative","scale":{"domain":[-0.1394,0.1033],"nice":false,"zero":false},"axis":{"values":[-0.1,-0.05,0,0.05,0.1],"format":".2f","title":"MDS2","titleFontSize":7}}},
 "layer":[
  {"data":{"name":"ell"},"transform":[{"filter":"datum.p==='WN'"}],"mark":{"type":"line","interpolate":"cardinal-closed","strokeWidth":1.1},"encoding":{"color":{"field":"g","type":"nominal","legend":null},"order":{"field":"k","type":"quantitative"}}},
  {"data":{"name":"axs"},"transform":[{"filter":"datum.p==='WN'"}],"mark":{"type":"rule","strokeDash":[2,1.5],"strokeWidth":0.8},"encoding":{"x2":{"field":"x2"},"y2":{"field":"y2"},"color":{"field":"g","type":"nominal","legend":null}}},
  {"data":{"name":"pts"},"transform":[{"filter":"datum.p==='WN'"}],"mark":{"type":"rule","strokeWidth":1.1},"encoding":{"x2":{"field":"cx"},"y2":{"field":"cy"},"color":{"field":"g","type":"nominal","legend":null}}},
  {"data":{"name":"pts"},"transform":[{"filter":"datum.p==='WN'"}],"mark":{"type":"circle","size":9,"opacity":1},"encoding":{"color":{"field":"g","type":"nominal","legend":null}}},
  {"data":{"name":"cen"},"transform":[{"filter":"datum.p==='WN'"}],"mark":{"type":"point","shape":"M-1,-0.36H1V0.36H-1Z","filled":true,"strokeWidth":0.9,"opacity":1},"encoding":{"fill":{"field":"g","type":"nominal","scale":{"domain":["CON","PRED"],"range":["#fde6f1","#e4edf7"]},"legend":null},"stroke":{"field":"g","type":"nominal","scale":{"domain":["CON","PRED"],"range":["#e0338a","#2f6aa7"]},"legend":null},"size":{"field":"g","type":"ordinal","scale":{"domain":["CON","PRED"],"range":[256,361]},"legend":null}}},
  {"data":{"name":"cen"},"transform":[{"filter":"datum.p==='WN'"}],"mark":{"type":"text","fontSize":5.6,"fontWeight":"bold"},"encoding":{"text":{"field":"g"},"color":{"field":"g","type":"nominal","legend":null}}}
 ]},
 {"data":{"name":"cen"},"transform":[{"filter":"datum.p==='WN'"}],"mark":{"type":"point","opacity":0},
  "encoding":{"x":{"field":"x","type":"quantitative","scale":{"domain":[-0.1309,0.1156],"nice":false,"zero":false},"axis":{"orient":"bottom","title":"STRESS: 0.1","labels":false,"ticks":false,"grid":false,"domain":false,"titleFontSize":10,"titlePadding":22}},
   "y":{"field":"y","type":"quantitative","scale":{"domain":[-0.1394,0.1033],"nice":false,"zero":false},"axis":{"values":[-0.1,-0.05,0,0.05,0.1],"format":".2f","title":"MDS2","titleFontSize":7}}}}
 ]}
]
}
